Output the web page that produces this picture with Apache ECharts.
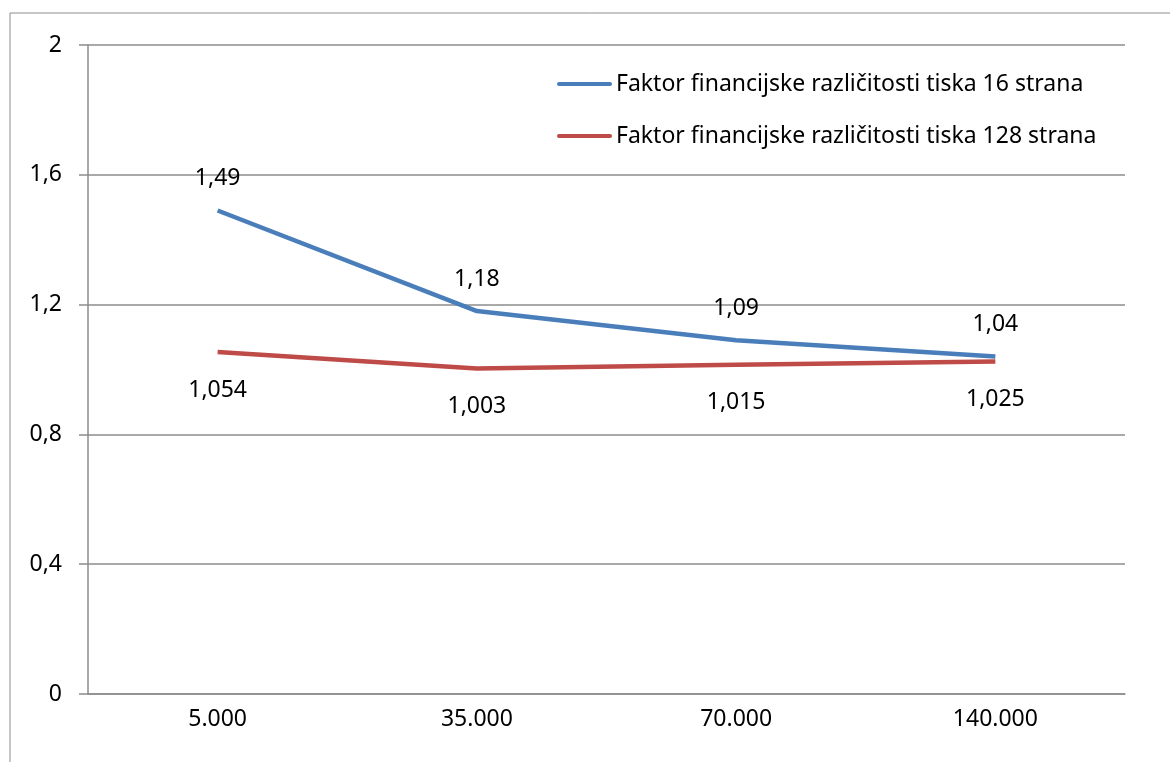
<!DOCTYPE html>
<html>
<head>
<meta charset="utf-8">
<script src="https://cdn.jsdelivr.net/npm/echarts@6/dist/echarts.min.js"></script>
<style>
  html, body { margin: 0; padding: 0; background: #fff; }
  #chart { width: 1170px; height: 762px; }
</style>
</head>
<body>
<div id="chart"></div>
<script>
const categories = ['5.000', '35.000', '70.000', '140.000']
const series16 = [1.49, 1.18, 1.09, 1.04]
const series128 = [1.054, 1.003, 1.015, 1.025]
const name16 = 'Faktor financijske različitosti tiska 16 strana'
const name128 = 'Faktor financijske različitosti tiska 128 strana'

const font = 'Noto Sans'
const fs = 23
const comma = v => String(v).replace('.', ',')
const lineIcon = 'path://M2,0 L53,0 A2,2 0 0 1 53,4 L2,4 A2,2 0 0 1 2,0 Z'

const myChart = echarts.init(document.getElementById('chart'))
const option = {
    animation: false,
    backgroundColor: '#fff',
    textStyle: { fontFamily: font },
    graphic: [{
        type: 'rect',
        shape: { x: 10, y: 13, width: 1300, height: 900 },
        style: { fill: 'none', stroke: '#8c8c8c', lineWidth: 1 },
        silent: true
    }],
    grid: { left: 88, right: 45, top: 45, bottom: 68 },
    legend: {
        orient: 'vertical',
        left: 552,
        top: 65,
        itemWidth: 55,
        itemHeight: 4,
        itemGap: 24,
        textStyle: { fontFamily: font, fontSize: fs, color: '#000', lineHeight: 28, padding: [0, 0, 0, -1] },
        data: [
            { name: name16, icon: lineIcon },
            { name: name128, icon: lineIcon }
        ]
    },
    xAxis: {
        type: 'category',
        data: categories,
        boundaryGap: true,
        axisLine: { lineStyle: { color: '#8c8c8c', width: 1.5 } },
        axisTick: { length: 8, lineStyle: { color: '#8c8c8c', width: 1.5 } },
        axisLabel: { color: '#000', fontSize: fs, fontFamily: font, margin: 14 }
    },
    yAxis: {
        type: 'value',
        min: 0,
        max: 2,
        interval: 0.4,
        axisLine: { show: true, lineStyle: { color: '#8c8c8c', width: 1.5 } },
        axisTick: { show: true, length: 9, lineStyle: { color: '#8c8c8c', width: 1.5 } },
        splitLine: { lineStyle: { color: '#8c8c8c', width: 1.5 } },
        axisLabel: { color: '#000', fontSize: fs, fontFamily: font, margin: 26, formatter: v => comma(+v.toFixed(1)) }
    },
    series: [
        {
            name: name16,
            type: 'line',
            data: series16,
            symbol: 'circle',
            symbolSize: 0,
            color: '#4A7EBB',
            lineStyle: { width: 4.5, color: '#4A7EBB' },
            label: {
                show: true, position: 'top', distance: 21,
                color: '#000', fontSize: fs, fontFamily: font, lineHeight: 22,
                formatter: p => comma(p.value)
            }
        },
        {
            name: name128,
            type: 'line',
            data: series128,
            symbol: 'circle',
            symbolSize: 0,
            color: '#BE4B48',
            lineStyle: { width: 4.5, color: '#BE4B48' },
            label: {
                show: true, position: 'bottom', distance: 27,
                color: '#000', fontSize: fs, fontFamily: font, lineHeight: 22,
                formatter: p => comma(p.value)
            }
        }
    ]
}
myChart.setOption(option)
</script>
</body>
</html>
